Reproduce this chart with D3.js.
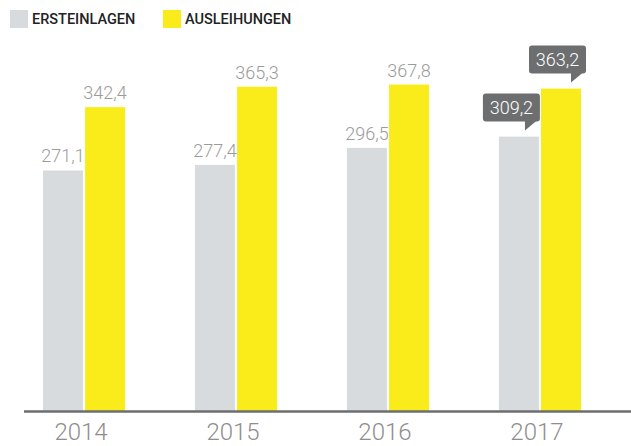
<!DOCTYPE html>
<html>
<head>
<meta charset="utf-8">
<script src="https://cdn.jsdelivr.net/npm/d3@7"></script>
<style>
  body { margin: 0; background: #fff; }
  svg text { font-family: "Liberation Sans", Roboto, Arial, sans-serif; }
  .val { font-family: Roboto, "Liberation Sans", sans-serif; font-weight: 300; }
  .leg { font-family: Roboto, "Liberation Sans", sans-serif; font-weight: 500; }
</style>
</head>
<body>
<div id="chart"></div>
<script>
var years = ["2014", "2015", "2016", "2017"];
var seriesNames = ["ERSTEINLAGEN", "AUSLEIHUNGEN"];
var ersteinlagen = [271.1, 277.4, 296.5, 309.2];
var ausleihungen = [342.4, 365.3, 367.8, 363.2];
var seriesColors = ["#d8dbde", "#f9ec1a"];

var svgWidth = 631;
var svgHeight = 446;

var svg = d3.select("#chart")
  .append("svg")
  .attr("width", svgWidth)
  .attr("height", svgHeight);

var data = years.map(function(y, i) {
  return { year: y, values: [ersteinlagen[i], ausleihungen[i]] };
});

var fmt = function(v) { return d3.format(".1f")(v).replace(".", ","); };

// scales
var x0 = d3.scaleBand()
  .domain(years)
  .range([43, 581])
  .paddingInner(0.46)
  .paddingOuter(0);

var x1 = d3.scaleBand()
  .domain([0, 1])
  .range([0, x0.bandwidth()])
  .paddingInner(0.05);

var y = d3.scaleLinear()
  .domain([0, 400])
  .range([411.5, 55.9]);

// bars
var groups = svg.selectAll(".grp")
  .data(data)
  .enter()
  .append("g")
  .attr("class", "grp")
  .attr("transform", d => `translate(${x0(d.year)},0)`);

groups.selectAll("rect")
  .data(d => d.values.map((v, i) => ({ v: v, i: i, year: d.year })))
  .enter()
  .append("rect")
  .attr("x", d => x1(d.i))
  .attr("width", x1.bandwidth())
  .attr("y", d => y(d.v))
  .attr("height", d => y(0) - y(d.v))
  .attr("fill", d => seriesColors[d.i]);

// plain value labels (all but last year)
groups.filter(d => d.year !== "2017")
  .selectAll(".val")
  .data(d => d.values.map((v, i) => ({ v: v, i: i })))
  .enter()
  .append("text")
  .attr("class", "val")
  .attr("x", d => x1(d.i) + x1.bandwidth() / 2)
  .attr("y", d => y(d.v) - 8)
  .attr("text-anchor", "middle")
  .attr("font-size", 18)
  .attr("fill", "#9b9b9b")
  .text(d => fmt(d.v));

// callouts for 2017
var last = groups.filter(d => d.year === "2017");
var callout = last.selectAll(".callout")
  .data(d => d.values.map((v, i) => ({ v: v, i: i })))
  .enter()
  .append("g")
  .attr("class", "callout")
  .attr("transform", d => `translate(${x1(d.i) + x1.bandwidth() + (d.i === 1 ? 5 : 1)},${y(d.v) - 15})`);

callout.append("rect")
  .attr("x", -57)
  .attr("y", -28)
  .attr("width", 57)
  .attr("height", 28)
  .attr("rx", 3)
  .attr("fill", "#6d6e70");

callout.append("path")
  .attr("d", "M-15,-1 L-3,-1 L-15,9 Z")
  .attr("fill", "#6d6e70");

callout.append("text")
  .attr("class", "val")
  .attr("x", -28.5)
  .attr("y", -7.5)
  .attr("text-anchor", "middle")
  .attr("font-size", 18)
  .attr("fill", "#ffffff")
  .text(d => fmt(d.v));

// baseline axis
var xAxis = svg.append("g")
  .attr("transform", `translate(0, ${y(0)})`)
  .call(d3.axisBottom(x0).tickSize(0));

xAxis.select(".domain")
  .attr("d", "M24,0H631")
  .attr("stroke", "#6d6e70")
  .attr("stroke-width", 2.5);

xAxis.selectAll("text")
  .attr("class", "val")
  .attr("font-size", 24)
  .attr("fill", "#8e8e8e")
  .attr("y", 28)
  .attr("dy", 0)
  .attr("dx", -3);

// legend
var legend = svg.append("g");
var legendX = [10, 163];
seriesNames.forEach(function(name, i) {
  legend.append("rect")
    .attr("x", legendX[i])
    .attr("y", 10)
    .attr("width", 18)
    .attr("height", 18)
    .attr("fill", seriesColors[i]);
  legend.append("text")
    .attr("class", "leg")
    .attr("x", legendX[i] + 22)
    .attr("y", 24)
    .attr("font-size", 14.5)
    .attr("fill", "#222")
    .text(name);
});
</script>
</body>
</html>
